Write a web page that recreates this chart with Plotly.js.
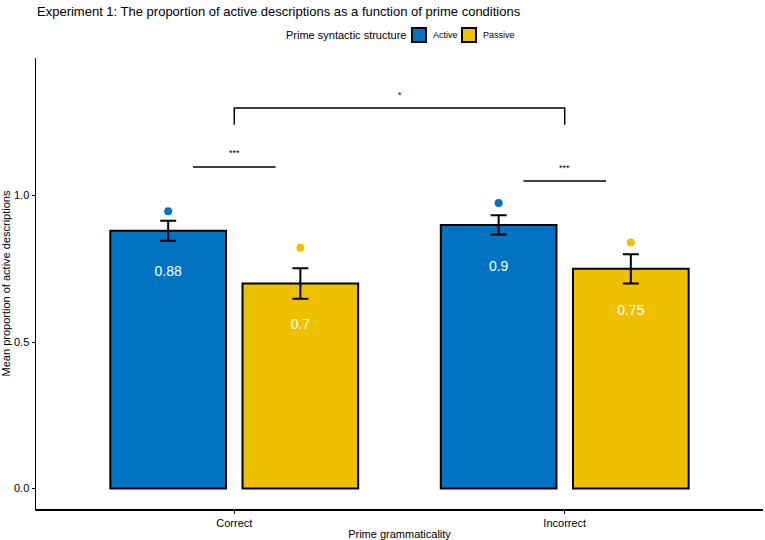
<!DOCTYPE html>
<html>
<head>
<meta charset="utf-8">
<script src="https://cdn.plot.ly/plotly-3.0.1.min.js"></script>
<style>
  html, body { margin: 0; padding: 0; background: #fff; }
  #chart { width: 765px; height: 540px; }
</style>
</head>
<body>
<div id="chart"></div>
<script>
// data
var categories = ['Correct', 'Incorrect'];
var groups = ['Active', 'Passive'];
var meanActive = [0.88, 0.90];
var meanPassive = [0.70, 0.75];
var seActive = [0.034, 0.033];
var sePassive = [0.052, 0.050];
var dotActive = [0.947, 0.975];
var dotPassive = [0.822, 0.840];
var labelActive = ['0.88', '0.9'];
var labelPassive = ['0.7', '0.75'];

var blue = '#0073C2';
var yellow = '#EFC000';
var font = 'Liberation Sans, Arial, Helvetica, sans-serif';

var catX = categories.map(function (c, i) { return i; });
var dodge = 0.2;
var shift = function (d) { return catX.map(function (x) { return x + d; }); };
var below = function (arr) { return arr.map(function (v) { return v - 0.144; }); };

function barTrace(name, y, se, color) {
    return {
        type: 'bar',
        name: name,
        x: catX,
        y: y,
        marker: { color: color, line: { color: 'black', width: 2 } },
        error_y: { type: 'data', array: se, visible: true, color: 'black', thickness: 2, width: 8 },
        hoverinfo: 'y'
    };
}

var data = [
    barTrace(groups[0], meanActive, seActive, blue),
    barTrace(groups[1], meanPassive, sePassive, yellow),
    {
        type: 'scatter', mode: 'markers',
        x: shift(-dodge), y: dotActive,
        marker: { color: blue, size: 8 }
    },
    {
        type: 'scatter', mode: 'markers',
        x: shift(dodge), y: dotPassive,
        marker: { color: yellow, size: 8 }
    },
    {
        type: 'scatter', mode: 'text', hoverinfo: 'skip',
        x: shift(-dodge).concat(shift(dodge)),
        y: below(meanActive).concat(below(meanPassive)),
        text: labelActive.concat(labelPassive),
        textposition: 'middle center',
        textfont: { color: 'white', size: 14, family: font }
    }
];

// plot box in pixels, used for the hand-made legend above the panel
var box = { l: 36, r: 763, t: 58, b: 509 };
var px = function (x) { return (x - box.l) / (box.r - box.l); };
var py = function (y) { return (box.b - y) / (box.b - box.t); };

// significance brackets
var sigLine = { type: 'line', xref: 'x', yref: 'y', line: { color: 'black', width: 1.5 } };
var shapes = [
    Object.assign({}, sigLine, { x0: -0.125, x1: 0.125, y0: 1.098, y1: 1.098 }),
    Object.assign({}, sigLine, { x0: 0.875, x1: 1.125, y0: 1.050, y1: 1.050 }),
    {
        type: 'path', xref: 'x', yref: 'y',
        path: 'M 0 1.242 L 0 1.299 L 1 1.299 L 1 1.242',
        line: { color: 'black', width: 1.5 }
    }
];

var sigText = function (x, y, t) {
    return { x: x, y: y, xref: 'x', yref: 'y', text: t, showarrow: false,
             font: { size: 9, color: 'black', family: font } };
};
var annotations = [
    sigText(0, 1.145, '***'),
    sigText(1, 1.094, '***'),
    sigText(0.5, 1.342, '*')
];

// legend
var legendKeys = [
    { label: groups[0], color: blue, x: 412 },
    { label: groups[1], color: yellow, x: 462 }
];
annotations.push({
    xref: 'paper', yref: 'paper', x: px(284), y: py(35), xanchor: 'left', yanchor: 'middle',
    text: 'Prime syntactic structure', showarrow: false, font: { size: 11, color: 'black', family: font }
});
legendKeys.forEach(function (k) {
    shapes.push({
        type: 'rect', xref: 'paper', yref: 'paper',
        x0: px(k.x), x1: px(k.x + 14), y0: py(42), y1: py(28),
        fillcolor: k.color, line: { color: 'black', width: 2 }
    });
    annotations.push({
        xref: 'paper', yref: 'paper', x: px(k.x + 19), y: py(35), xanchor: 'left', yanchor: 'middle',
        text: k.label, showarrow: false, font: { size: 9, color: 'black', family: font }
    });
});

var layout = {
    width: 765,
    height: 540,
    margin: { l: box.l, r: 765 - box.r, t: box.t, b: 540 - box.b },
    paper_bgcolor: 'white',
    plot_bgcolor: 'white',
    font: { family: font, color: 'black', size: 11 },
    title: {
        text: 'Experiment 1: The proportion of active descriptions as a function of prime conditions',
        font: { size: 13, color: 'black', family: font },
        x: 37 / 765, xanchor: 'left', xref: 'container',
        y: 1 - 11 / 540, yanchor: 'middle', yref: 'container'
    },
    barmode: 'group',
    bargap: 0.2,
    bargroupgap: 0.125,
    showlegend: false,
    xaxis: {
        range: [-0.6, 1.6],
        tickvals: catX,
        ticktext: categories,
        showline: true, linecolor: 'black', linewidth: 1.5,
        ticks: 'outside', ticklen: 3, tickcolor: 'black', tickwidth: 1,
        showgrid: false, zeroline: false,
        tickfont: { size: 11 },
        title: { text: 'Prime grammaticality', font: { size: 11 }, standoff: 4 }
    },
    yaxis: {
        range: [-0.07, 1.47],
        tickvals: [0, 0.5, 1],
        ticktext: ['0.0', '0.5', '1.0'],
        showline: true, linecolor: 'black', linewidth: 1.5,
        ticks: 'outside', ticklen: 3, tickcolor: 'black', tickwidth: 1,
        showgrid: false, zeroline: false,
        tickfont: { size: 11 },
        title: { text: 'Mean proportion of active descriptions', font: { size: 11 }, standoff: 4 }
    },
    shapes: shapes,
    annotations: annotations
};

Plotly.newPlot(document.getElementById('chart'), data, layout, { displayModeBar: false, staticPlot: true });
</script>
</body>
</html>
